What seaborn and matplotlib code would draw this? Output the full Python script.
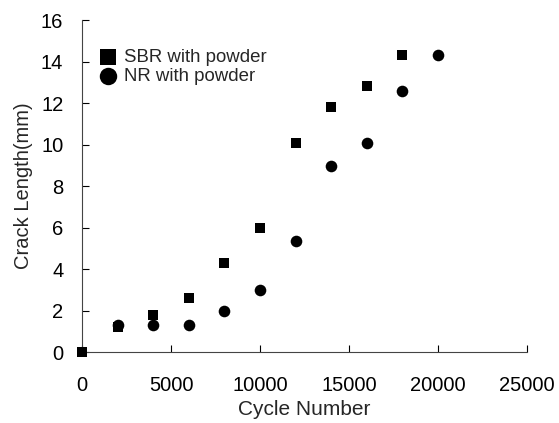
import matplotlib
matplotlib.use("Agg")
import matplotlib.pyplot as plt
import seaborn as sns
import pandas as pd

sbr_cycles = [0, 2000, 4000, 6000, 8000, 10000, 12000, 14000, 16000, 18000]
sbr_crack = [0.0, 1.2, 1.8, 2.6, 4.3, 6.0, 10.05, 11.8, 12.8, 14.3]
nr_cycles = [2000, 4000, 6000, 8000, 10000, 12000, 14000, 16000, 18000, 20000]
nr_crack = [1.3, 1.3, 1.3, 2.0, 3.0, 5.35, 8.95, 10.05, 12.6, 14.3]

x_ticks = [0, 5000, 10000, 15000, 20000, 25000]
y_ticks = [0, 2, 4, 6, 8, 10, 12, 14, 16]

sns.set_style("ticks")
plt.rcParams['font.family'] = ['Liberation Sans', 'DejaVu Sans']

fig = plt.figure(figsize=(5.59, 4.23), dpi=100)
ax = fig.add_axes([0.1467, 0.1678, 0.7961, 0.7849])

sbr = pd.DataFrame({"x": sbr_cycles, "y": sbr_crack})
nr = pd.DataFrame({"x": nr_cycles, "y": nr_crack})

sns.scatterplot(data=sbr, x="x", y="y", ax=ax, marker="s", color="black",
                s=62, edgecolor="black", linewidth=0, label="SBR with powder", clip_on=False, zorder=3)
sns.scatterplot(data=nr, x="x", y="y", ax=ax, marker="o", color="black",
                s=70, edgecolor="black", linewidth=0, label="NR with powder", clip_on=False, zorder=3)

ax.set_xlim(0, 25000)
ax.set_ylim(0, 16)
ax.set_xticks(x_ticks)
ax.set_yticks(y_ticks)
ax.tick_params(direction="in", length=5, width=0.8, labelsize=14.5, colors="black")
ax.tick_params(axis="y", pad=13.5)
ax.tick_params(axis="x", pad=17)
for side in ["top", "right"]:
    ax.spines[side].set_visible(False)
for side in ["left", "bottom"]:
    ax.spines[side].set_color("#444444")
    ax.spines[side].set_linewidth(0.8)

ax.set_xlabel("Cycle Number", fontsize=15, labelpad=4)
ax.set_ylabel("Crack Length(mm)", fontsize=14.5, labelpad=6)

leg = ax.legend(loc="upper left", bbox_to_anchor=(0.017, 0.935), frameon=False,
                fontsize=13.4, handlelength=1.2, handletextpad=0.27, labelspacing=0.1,
                markerscale=1.5, borderaxespad=0)

fig.savefig("out.png", dpi=100)
